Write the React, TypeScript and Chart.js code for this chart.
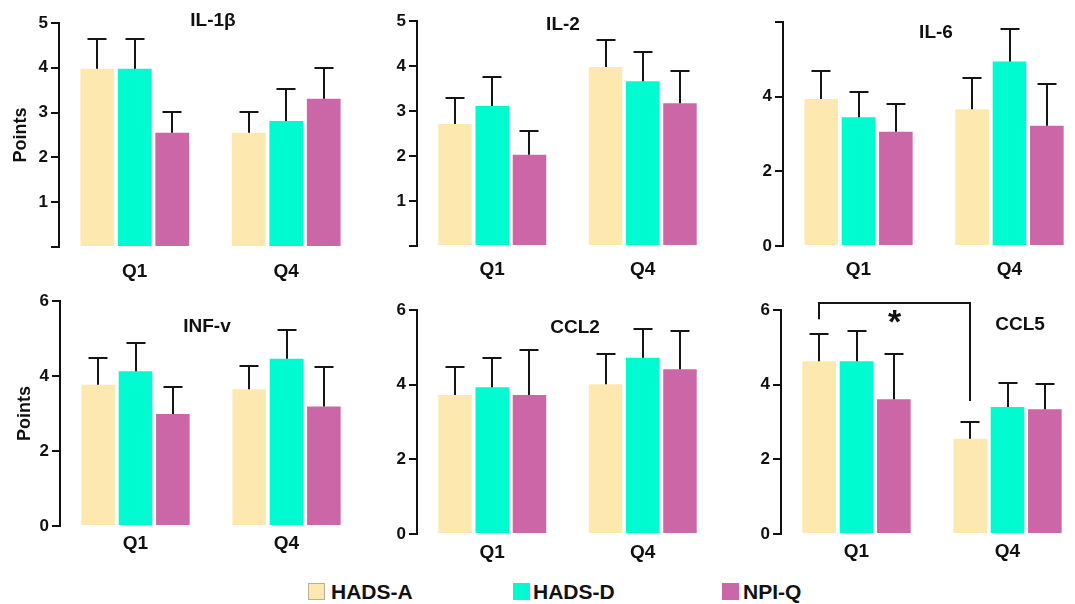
import React, { useEffect, useRef } from "react";
import { Chart, registerables } from "chart.js";
Chart.register(...registerables);

// ---------- data ----------
const categories = ["Q1", "Q4"];
const seriesNames = ["HADS-A", "HADS-D", "NPI-Q"];
const seriesColors = ["#FDE9B0", "#00FBD1", "#CB67A6"];

// IL-1β
const il1bMeans = [[3.98, 2.55], [3.98, 2.81], [2.55, 3.31]];
const il1bErrs = [[0.66, 0.46], [0.66, 0.71], [0.46, 0.69]];
// IL-2
const il2Means = [[2.71, 3.98], [3.11, 3.66], [2.03, 3.17]];
const il2Errs = [[0.59, 0.59], [0.64, 0.66], [0.52, 0.73]];
// IL-6
const il6Means = [[3.94, 3.66], [3.45, 4.94], [3.06, 3.22]];
const il6Errs = [[0.75, 0.83], [0.68, 0.87], [0.75, 1.11]];
// INF-v
const infMeans = [[3.77, 3.65], [4.13, 4.46], [2.99, 3.19]];
const infErrs = [[0.70, 0.62], [0.74, 0.76], [0.73, 1.04]];
// CCL2
const ccl2Means = [[3.72, 4.01], [3.93, 4.72], [3.72, 4.41]];
const ccl2Errs = [[0.74, 0.81], [0.79, 0.76], [1.21, 1.02]];
// CCL5
const ccl5Means = [[4.63, 2.55], [4.63, 3.40], [3.61, 3.34]];
const ccl5Errs = [[0.73, 0.45], [0.81, 0.64], [1.21, 0.68]];

// y-axis ticks
const ticks5 = [0, 1, 2, 3, 4, 5];
const ticks6 = [0, 2, 4, 6];
// significance bracket for CCL5 (values on the y-axis)
const ccl5Bracket = { top: 6.2, leftEnd: 5.75, rightEnd: 3.56, label: "*" };

// ---------- layout ----------
const FONT = "'Liberation Sans', Arial, Helvetica, sans-serif";
const YW = 60;
const PT = 20;
const XH = 45;

type Panel = {
  title: string;
  means: number[][];
  errs: number[][];
  max: number;
  ticks: number[];
  hidden: number[];
  axisX: number;
  right: number;
  top: number;
  bottom: number;
  titleX: number;
  titleY: number;
  xPad: number;
  ylabel?: number;
  bracket?: typeof ccl5Bracket;
};

const panels: Panel[] = [
  { title: "IL-1β", means: il1bMeans, errs: il1bErrs, max: 5, ticks: ticks5, hidden: [0], axisX: 59, right: 362, top: 23, bottom: 247, titleX: 213, titleY: 21, xPad: 13, ylabel: 11 },
  { title: "IL-2", means: il2Means, errs: il2Errs, max: 5, ticks: ticks5, hidden: [0], axisX: 417, right: 718, top: 21, bottom: 246, titleX: 563, titleY: 25, xPad: 12 },
  { title: "IL-6", means: il6Means, errs: il6Errs, max: 6, ticks: ticks6, hidden: [6], axisX: 783, right: 1085, top: 22, bottom: 246, titleX: 936, titleY: 33, xPad: 12 },
  { title: "INF-v", means: infMeans, errs: infErrs, max: 6, ticks: ticks6, hidden: [], axisX: 60, right: 362, top: 301, bottom: 526, titleX: 207, titleY: 327, xPad: 6, ylabel: 14 },
  { title: "CCL2", means: ccl2Means, errs: ccl2Errs, max: 6, ticks: ticks6, hidden: [], axisX: 417, right: 718, top: 310, bottom: 534, titleX: 575, titleY: 328, xPad: 7 },
  { title: "CCL5", means: ccl5Means, errs: ccl5Errs, max: 6, ticks: ticks6, hidden: [], axisX: 781, right: 1083, top: 310, bottom: 534, titleX: 1020, titleY: 325, xPad: 6, bracket: ccl5Bracket },
];

const overlayPlugin = {
  id: "overlay",
  afterDatasetsDraw(chart: any, _args: any, opts: any) {
    const ctx = chart.ctx as CanvasRenderingContext2D;
    const ys = chart.scales.y;
    ctx.save();
    ctx.strokeStyle = "#151515";
    ctx.lineWidth = 2;
    ctx.lineCap = "butt";
    chart.data.datasets.forEach((ds: any, di: number) => {
      const meta = chart.getDatasetMeta(di);
      meta.data.forEach((bar: any, i: number) => {
        const v = ds.data[i];
        const e = opts.errs[di][i];
        const x = Math.round(bar.x);
        const y0 = ys.getPixelForValue(v);
        const y1 = Math.round(ys.getPixelForValue(v + e));
        ctx.beginPath();
        ctx.moveTo(x, y0);
        ctx.lineTo(x, y1);
        ctx.moveTo(x - 9.5, y1);
        ctx.lineTo(x + 9.5, y1);
        ctx.stroke();
      });
    });
    // panel title
    ctx.fillStyle = "#111";
    ctx.font = `bold 19px ${FONT}`;
    ctx.textAlign = "center";
    ctx.textBaseline = "middle";
    ctx.fillText(opts.title, opts.titleX, opts.titleY);
    // significance bracket
    if (opts.bracket) {
      const b = opts.bracket;
      const xl = Math.round(chart.getDatasetMeta(0).data[0].x);
      const xr = Math.round(chart.getDatasetMeta(0).data[1].x);
      const yt = Math.round(ys.getPixelForValue(b.top));
      ctx.beginPath();
      ctx.moveTo(xl, ys.getPixelForValue(b.leftEnd));
      ctx.lineTo(xl, yt);
      ctx.lineTo(xr, yt);
      ctx.lineTo(xr, ys.getPixelForValue(b.rightEnd));
      ctx.stroke();
      ctx.font = `bold 34px ${FONT}`;
      ctx.textBaseline = "alphabetic";
      ctx.fillText(b.label, (xl + xr) / 2, yt + 30);
    }
    ctx.restore();
  },
};

function PanelChart({ p }: { p: Panel }) {
  const ref = useRef<HTMLCanvasElement>(null);
  const left = p.axisX - YW;
  const top = p.top - PT;
  const width = p.right - left;
  const height = p.bottom - top + XH;
  useEffect(() => {
    const chart = new Chart(ref.current!, {
      type: "bar",
      data: {
        labels: categories,
        datasets: seriesNames.map((name, i) => ({
          label: name,
          data: p.means[i],
          backgroundColor: seriesColors[i],
          borderWidth: 0,
          categoryPercentage: 0.742,
          barPercentage: 0.9,
        })),
      },
      options: {
        responsive: false,
        animation: false,
        events: [],
        layout: { padding: { left: 0, top: PT, right: 0, bottom: 0 } },
        plugins: {
          legend: { display: false },
          tooltip: { enabled: false },
          title: { display: false },
          overlay: {
            errs: p.errs,
            title: p.title,
            titleX: p.titleX - left,
            titleY: p.titleY - top,
            bracket: p.bracket,
          },
        } as any,
        scales: {
          x: {
            grid: { display: false, drawTicks: false },
            border: { display: false },
            ticks: { color: "#111", padding: p.xPad, font: { family: FONT, size: 19, weight: "bold" } },
            afterFit: (s: any) => { s.height = XH; },
          },
          y: {
            min: 0,
            max: p.max,
            afterBuildTicks: (s: any) => { s.ticks = p.ticks.map((v) => ({ value: v })); },
            ticks: {
              color: "#111",
              padding: 3,
              font: { family: FONT, size: 17, weight: "bold" },
              callback: (v: any) => (p.hidden.includes(Number(v)) ? "" : String(v)),
            },
            grid: { display: true, drawOnChartArea: false, drawTicks: true, tickLength: 8, lineWidth: 2, color: "#111" },
            border: { display: true, width: 2, color: "#111" },
            title: p.ylabel !== undefined
              ? { display: true, text: "Points", color: "#111", font: { family: FONT, size: 18, weight: "bold" }, padding: { top: p.ylabel, bottom: 0 } }
              : { display: false },
            afterFit: (s: any) => { s.width = YW; },
          },
        },
      } as any,
      plugins: [overlayPlugin],
    });
    return () => chart.destroy();
  }, []);
  return (
    <canvas
      ref={ref}
      width={width}
      height={height}
      style={{ position: "absolute", left, top, width, height, display: "block" }}
    />
  );
}

const legendPos = [
  { box: 308, text: 331 },
  { box: 513, text: 533 },
  { box: 722, text: 743 },
];

export default function App() {
  return (
    <div style={{ position: "fixed", left: 0, top: 0, width: 1075, height: 604, overflow: "hidden", background: "#fff" }}>
      {panels.map((p) => (
        <PanelChart key={p.title} p={p} />
      ))}
      {seriesNames.map((name, i) => (
        <React.Fragment key={name}>
          <div
            style={{
              position: "absolute",
              left: legendPos[i].box,
              top: 583,
              width: 17,
              height: 17,
              boxSizing: "border-box",
              background: seriesColors[i],
              border: i === 0 ? "1px solid #b9b09a" : "1px solid " + seriesColors[i],
            }}
          />
          <div
            style={{
              position: "absolute",
              left: legendPos[i].text,
              top: 581,
              fontFamily: FONT,
              fontWeight: "bold",
              fontSize: 21,
              lineHeight: "21px",
              color: "#111",
              whiteSpace: "nowrap",
            }}
          >
            {name}
          </div>
        </React.Fragment>
      ))}
    </div>
  );
}
